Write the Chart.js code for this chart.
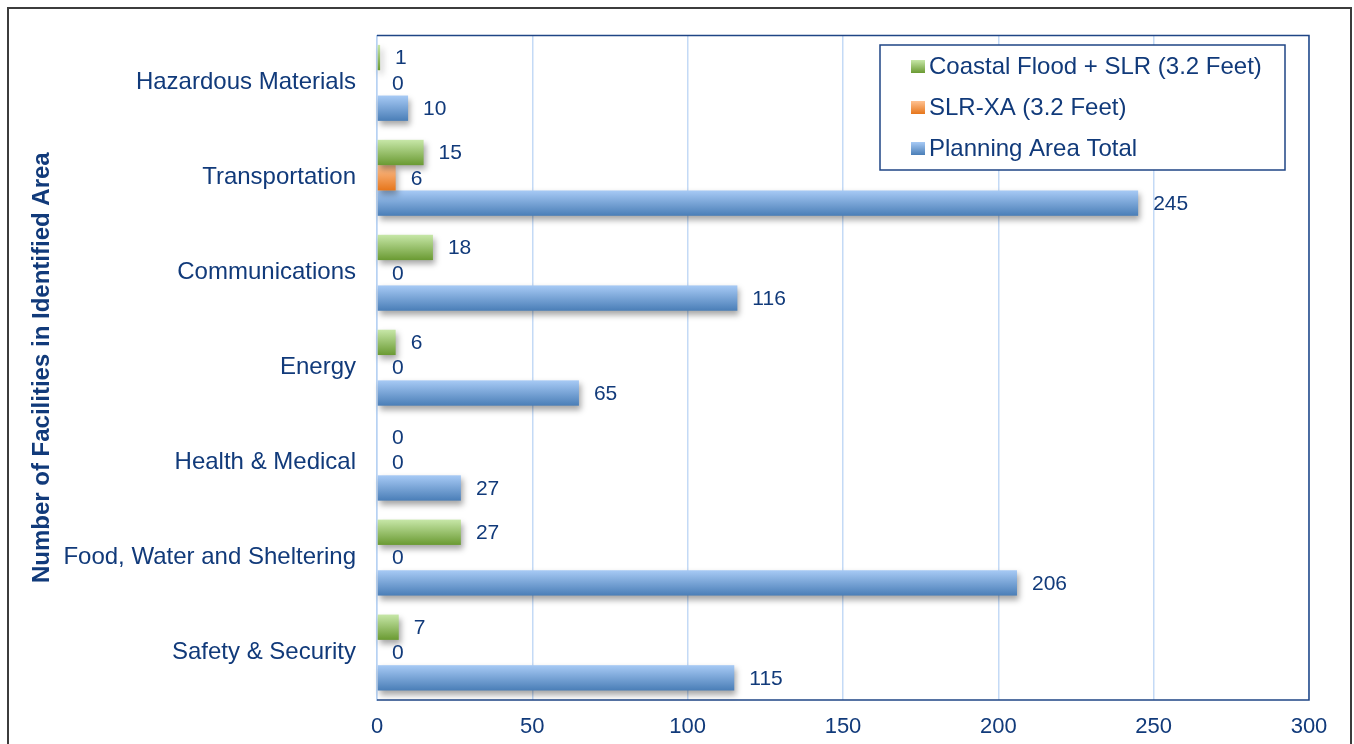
<!DOCTYPE html>
<html>
<head>
<meta charset="utf-8">
<title>Facilities in Identified Area</title>
<script src="https://cdn.jsdelivr.net/npm/chart.js@4.4.1/dist/chart.umd.min.js"></script>
<style>
  html, body { margin: 0; padding: 0; background: #fff; overflow: hidden; }
  #caja { position: relative; width: 1354px; height: 744px; }
  #marco { position: absolute; left: 7px; top: 7px; width: 1345px; height: 760px; border: 2px solid #3c3c3c; box-sizing: border-box; }
  #grafico { position: absolute; left: 0; top: 0; }
</style>
</head>
<body>
<div id="caja">
  <div id="marco"></div>
  <canvas id="grafico" width="1354" height="744"></canvas>
</div>
<script>
// datos del gráfico
const categorias = ['Hazardous Materials', 'Transportation', 'Communications', 'Energy',
  'Health & Medical', 'Food, Water and Sheltering', 'Safety & Security'];
const inundacionCostera = [1, 15, 18, 6, 0, 27, 7];
const slrXA = [0, 6, 0, 0, 0, 0, 0];
const totalPlanificacion = [10, 245, 116, 65, 27, 206, 115];
const ticksX = [0, 50, 100, 150, 200, 250, 300];

const azulTexto = '#113a7a';
const fuente = '"Liberation Sans", Arial, sans-serif';

//* degradados de cada serie (arriba, abajo)
const degradados = [
  ['#c7e7a8', '#6a9a32'],
  ['#ffc292', '#e6761b'],
  ['#a7caf5', '#4a7eb7']
];

//* dibuja las barras con degradado vertical y sombra
const barrasDegradado = {
  id: 'barrasDegradado',
  beforeDatasetDraw(chart, args) {
    const ctx = chart.ctx;
    const col = degradados[args.index];
    args.meta.data.forEach(el => {
      const izq = Math.min(el.base, el.x);
      const ancho = Math.abs(el.x - el.base);
      if (ancho < 0.5) return;
      const arriba = el.y - el.height / 2;
      const g = ctx.createLinearGradient(0, arriba, 0, arriba + el.height);
      g.addColorStop(0, col[0]);
      g.addColorStop(1, col[1]);
      ctx.save();
      ctx.shadowColor = 'rgba(0,0,0,0.35)';
      ctx.shadowBlur = 6;
      ctx.shadowOffsetX = 2;
      ctx.shadowOffsetY = 4;
      ctx.fillStyle = g;
      ctx.fillRect(izq, arriba, ancho, el.height);
      ctx.restore();
    });
    return false;
  }
};

//* valores al final de cada barra
const etiquetasValor = {
  id: 'etiquetasValor',
  afterDatasetsDraw(chart) {
    const ctx = chart.ctx;
    ctx.save();
    ctx.font = '21px ' + fuente;
    ctx.fillStyle = azulTexto;
    ctx.textAlign = 'left';
    ctx.textBaseline = 'middle';
    chart.data.datasets.forEach((ds, i) => {
      chart.getDatasetMeta(i).data.forEach((el, j) => {
        ctx.fillText(String(ds.data[j]), Math.max(el.x, el.base) + 15, el.y + 1);
      });
    });
    ctx.restore();
  }
};

//* borde del área de trazado y leyenda dentro del gráfico
const marcoYLeyenda = {
  id: 'marcoYLeyenda',
  beforeDatasetsDraw(chart) {
    const { ctx, chartArea: a } = chart;
    ctx.save();
    ctx.strokeStyle = '#1f4585';
    ctx.lineWidth = 1.5;
    ctx.beginPath();
    ctx.moveTo(a.left, a.top);
    ctx.lineTo(a.right, a.top);
    ctx.lineTo(a.right, a.bottom);
    ctx.lineTo(a.left, a.bottom);
    ctx.stroke();
    ctx.restore();
  },
  afterDraw(chart) {
    const ctx = chart.ctx;
    const x = 880, y = 45, w = 405, h = 125;
    ctx.save();
    ctx.fillStyle = '#fff';
    ctx.fillRect(x, y, w, h);
    ctx.strokeStyle = '#1f4585';
    ctx.lineWidth = 1.5;
    ctx.strokeRect(x, y, w, h);
    ctx.font = '24px ' + fuente;
    ctx.textBaseline = 'middle';
    chart.data.datasets.forEach((ds, i) => {
      const cy = y + 21 + i * 41;
      const g = ctx.createLinearGradient(0, cy - 6, 0, cy + 7);
      g.addColorStop(0, degradados[i][0]);
      g.addColorStop(1, degradados[i][1]);
      ctx.fillStyle = g;
      ctx.fillRect(911, cy - 6, 14, 13);
      ctx.fillStyle = azulTexto;
      ctx.fillText(ds.label, 929, cy + 1);
    });
    ctx.restore();
  }
};

new Chart(document.getElementById('grafico').getContext('2d'), {
  type: 'bar',
  data: {
    labels: categorias,
    datasets: [
      { label: 'Coastal Flood + SLR (3.2 Feet)', data: inundacionCostera, backgroundColor: degradados[0][1] },
      { label: 'SLR-XA (3.2 Feet)', data: slrXA, backgroundColor: degradados[1][1] },
      { label: 'Planning Area Total', data: totalPlanificacion, backgroundColor: degradados[2][1] }
    ]
  },
  options: {
    indexAxis: 'y',
    responsive: false,
    animation: false,
    layout: { padding: { left: 20, top: 35, right: 45, bottom: 0 } },
    datasets: { bar: { barPercentage: 1, categoryPercentage: 0.8 } },
    plugins: { legend: { display: false }, tooltip: { enabled: false } },
    scales: {
      x: {
        min: 0,
        max: 300,
        afterBuildTicks: s => { s.ticks = ticksX.map(v => ({ value: v })); },
        afterFit: s => { s.height = 44; },
        grid: { color: '#c4daf6', lineWidth: 1.5, drawTicks: false },
        border: { display: false },
        ticks: { padding: 14, color: azulTexto, font: { family: fuente, size: 22 } }
      },
      y: {
        afterFit: s => { s.width = 357; },
        grid: { display: false, drawTicks: false },
        border: { display: true, color: '#b7d2f3', width: 1.5 },
        ticks: { padding: 21, color: azulTexto, font: { family: fuente, size: 24 } },
        title: {
          display: true,
          text: 'Number of Facilities in Identified Area',
          color: azulTexto,
          font: { family: fuente, size: 24, weight: 'bold' },
          padding: { top: 8, bottom: 0 }
        }
      }
    }
  },
  plugins: [barrasDegradado, etiquetasValor, marcoYLeyenda]
});
</script>
</body>
</html>
